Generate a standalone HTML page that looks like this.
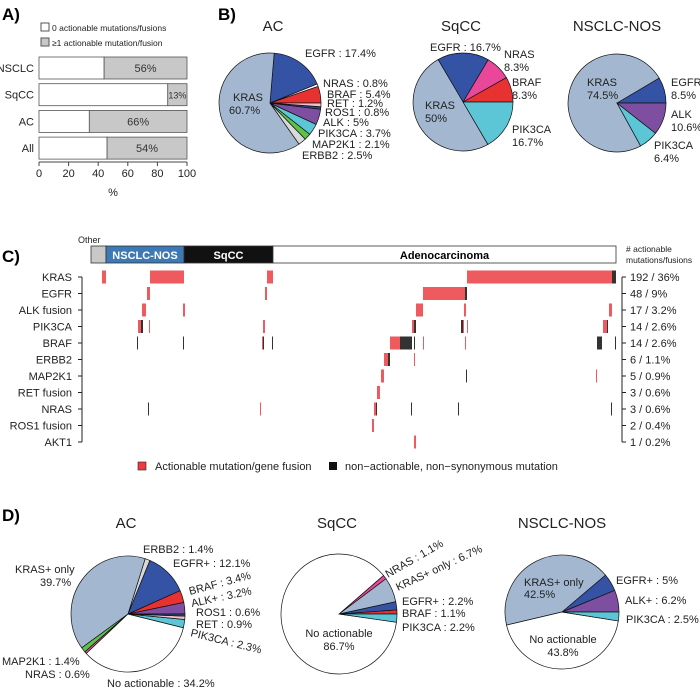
<!DOCTYPE html>
<html><head><meta charset="utf-8"><style>
html,body{margin:0;padding:0;background:#fff;}
svg{display:block;font-family:"Liberation Sans",Arial,sans-serif;}
</style></head><body>
<svg id="fig" width="700" height="697" viewBox="0 0 700 697" xmlns="http://www.w3.org/2000/svg">
<g font-size="17" font-weight="bold" fill="#000">
<text x="2" y="20">A)</text>
<text x="218" y="20">B)</text>
<text x="2" y="262">C)</text>
<text x="2" y="521">D)</text>
</g>
<g id="pa"></g>
<g id="pb"></g>
<g id="pc"></g>
<g id="pd"></g>
</svg>
<script>
// ---- Panel A data ----
const aCategories = ["NSCLC","SqCC","AC","All"];
const aActionable = [56,13,66,54];
const aTicks = [0,20,40,60,80,100];

// ---- Panel B data ----
const bACLabels = ["BRAF","NRAS","EGFR","KRAS","ERBB2","MAP2K1","PIK3CA","ALK","ROS1","RET"];
const bACValues = [5.4,0.8,17.4,60.7,2.5,2.1,3.7,5,0.8,1.2];
const bSqLabels = ["BRAF","NRAS","EGFR","KRAS","PIK3CA"];
const bSqValues = [8.3,8.3,16.7,50,16.7];
const bNosLabels = ["EGFR","KRAS","PIK3CA","ALK"];
const bNosValues = [8.5,74.5,6.4,10.6];

// ---- Panel C data ----
const cGenes = ["KRAS","EGFR","ALK fusion","PIK3CA","BRAF","ERBB2","MAP2K1","RET fusion","NRAS","ROS1 fusion","AKT1"];
const cCounts = ["192 / 36%","48 / 9%","17 / 3.2%","14 / 2.6%","14 / 2.6%","6 / 1.1%","5 / 0.9%","3 / 0.6%","3 / 0.6%","2 / 0.4%","1 / 0.2%"];
const cGroups = ["Other","NSCLC-NOS","SqCC","Adenocarcinoma"];
const cGroupStart = [0,15,93,182];
const cGroupEnd = [15,93,182,525];
const cNSamples = 525;
const segRow =  [0,0,0,0,0, 1,1,1,1, 2,2,2,2,2, 3,3,3,3,3,3,3,3,3,3,3, 4,4,4,4,4,4,4,4,4,4,4,4, 5,5,5, 6,6,6, 7, 8,8,8,8,8,8,8, 9, 10];
const segFrom = [11,59,176,376,521, 56,174,332,374, 51,92,325,373,518, 47,50,58,172,321,323,370,372,376,512,516, 46,92,171,172,181,299,309,323,332,374,506,524, 293,297,323, 290,375,505, 286, 57,169,283,285,320,367,520, 281, 323];
const segTo =   [15,93,182,521,525, 59,176,374,376, 55,94,332,375,521, 50,52,59,174,323,325,372,373,377,516,517, 47,93,172,173,182,309,321,324,333,375,511,525, 297,299,324, 293,376,506, 289, 58,170,285,286,321,368,521, 283, 325];
const segKind = ["a","a","a","a","n", "a","a","a","n", "a","a","a","a","a", "a","n","a","a","a","n","n","a","a","a","n", "n","n","a","n","n","a","n","n","a","a","n","n", "a","n","a", "a","n","a", "a", "n","a","a","n","n","n","n", "a", "a"];

// ---- Panel D data ----
const dACLabels = ["ALK+","BRAF","EGFR+","ERBB2","KRAS+ only","MAP2K1","NRAS","No actionable","PIK3CA","RET","ROS1"];
const dACValues = [3.2,3.4,12.1,1.4,39.7,1.4,0.6,34.2,2.3,0.9,0.6];
const dSqLabels = ["BRAF","EGFR+","KRAS+ only","NRAS","No actionable","PIK3CA"];
const dSqValues = [1.1,2.2,6.7,1.1,86.7,2.2];
const dNosLabels = ["ALK+","EGFR+","KRAS+ only","No actionable","PIK3CA"];
const dNosValues = [6.2,5,42.5,43.8,2.5];

const COL = {"KRAS":"#a3b8d0","KRAS+ only":"#a3b8d0","EGFR":"#3553a5","EGFR+":"#3553a5","BRAF":"#e83232","RET":"#f5bfd0","ROS1":"#27487e","ALK":"#7e4fa0","ALK+":"#7e4fa0","PIK3CA":"#5cc6d6","MAP2K1":"#5cc24a","ERBB2":"#d9d9d9","No actionable":"#ffffff"};
const NS="http://www.w3.org/2000/svg";
function mk(tag,attrs,parent,txt){const e=document.createElementNS(NS,tag);for(const k in attrs)e.setAttribute(k,attrs[k]);if(txt!==undefined)e.textContent=txt;parent.appendChild(e);return e;}

// ---- Panel A ----
(function(){
 const g=document.getElementById('pa');
 const x=v=>39+v*1.48;
 const y0=57, step=26.7, bh=22;
 let r=mk('rect',{x:41,y:23,width:8,height:8,fill:'#fff',stroke:'#555'},g);
 
 
 r=mk('rect',{x:41,y:38,width:8,height:8,fill:'#c8c8c8',stroke:'#555'},g);
 
 
 mk('text',{x:52,y:31,'font-size':'8.5',fill:'#222'},g,'0 actionable mutations/fusions');
 mk('text',{x:52,y:46,'font-size':'8.5',fill:'#222'},g,'\u22651 actionable mutation/fusion');
 aCategories.forEach((c,i)=>{
  const yy=y0+i*step, w0=100-aActionable[i];
  let b=mk('rect',{x:x(0),y:yy,width:x(w0)-x(0),height:bh,fill:'#fff',stroke:'#555','stroke-width':0.8},g);
  
  
  b=mk('rect',{x:x(w0),y:yy,width:x(100)-x(w0),height:bh,fill:'#c8c8c8',stroke:'#555','stroke-width':0.8},g);
  
  
  mk('text',{x:(x(w0)+x(100))/2,y:yy+15,'font-size':aActionable[i]<20?'9':'11','text-anchor':'middle',fill:'#333'},g,aActionable[i]+'%');
  mk('text',{x:34,y:yy+15,'font-size':'11','text-anchor':'end',fill:'#222'},g,c);
 });
 mk('line',{x1:x(0),x2:x(100),y1:162,y2:162,stroke:'#444'},g);
 aTicks.forEach(t=>{
  mk('line',{x1:x(t),x2:x(t),y1:162,y2:166,stroke:'#444'},g);
  mk('text',{x:x(t),y:177,'font-size':'11','text-anchor':'middle',fill:'#222'},g,String(t));
 });
 mk('text',{x:x(50),y:196,'font-size':'11','text-anchor':'middle',fill:'#222'},g,'%');
})();

// ---- pie helper ----
function pie(g,cx,cy,rx,ry,labels,values,colorFn,name){
 const tot=values.reduce((a,b)=>a+b,0);
 let a=0;
 labels.forEach((l,i)=>{
  const a1=a+values[i]/tot*2*Math.PI;
  const x0=cx+rx*Math.cos(a),y0=cy-ry*Math.sin(a),x1=cx+rx*Math.cos(a1),y1=cy-ry*Math.sin(a1);
  const large=(a1-a)>Math.PI?1:0;
  const p=mk('path',{d:`M${cx},${cy} L${x0},${y0} A${rx},${ry} 0 ${large} 0 ${x1},${y1} Z`,fill:colorFn(l),stroke:'#111','stroke-width':0.7},g);
  
  
  a=a1;
 });
}
function txt(g,x,y,s,opt){opt=opt||{};const t=mk('text',{x:x,y:y,'font-size':opt.fs||11,'text-anchor':opt.anchor||'start',fill:'#222'},g,s);if(opt.rot)t.setAttribute('transform',`rotate(${opt.rot} ${x} ${y})`);return t;}

// ---- Panel B ----
(function(){
 const g=document.getElementById('pb');
 txt(g,273,31,'AC',{fs:15,anchor:'middle'});
 txt(g,461,31,'SqCC',{fs:15,anchor:'middle'});
 txt(g,617,31,'NSCLC-NOS',{fs:15,anchor:'middle'});
 pie(g,270,103,51,50,bACLabels,bACValues,l=>l==='NRAS'?'#ffffff':COL[l],'b-ac');
 pie(g,463,102,50,49,bSqLabels,bSqValues,l=>l==='NRAS'?'#e8479a':COL[l],'b-sqcc');
 pie(g,617,103,49,49,bNosLabels,bNosValues,l=>COL[l],'b-nos');
 txt(g,233,101,'KRAS');txt(g,229,114,'60.7%');
 txt(g,305,57,'EGFR : 17.4%');
 txt(g,323,87,'NRAS : 0.8%');txt(g,327,98,'BRAF : 5.4%');txt(g,327,107,'RET : 1.2%');
 txt(g,325,116,'ROS1 : 0.8%');txt(g,323,126,'ALK : 5%');txt(g,318,137,'PIK3CA : 3.7%');
 txt(g,312,148,'MAP2K1 : 2.1%');txt(g,302,159,'ERBB2 : 2.5%');
 txt(g,430,51,'EGFR : 16.7%');txt(g,504,58,'NRAS');txt(g,504,71,'8.3%');
 txt(g,512,86,'BRAF');txt(g,512,99,'8.3%');txt(g,425,109,'KRAS');txt(g,425,122,'50%');
 txt(g,512,133,'PIK3CA');txt(g,512,146,'16.7%');
 txt(g,587,86,'KRAS');txt(g,587,99,'74.5%');txt(g,671,86,'EGFR');txt(g,671,99,'8.5%');
 txt(g,671,118,'ALK');txt(g,671,131,'10.6%');txt(g,654,149,'PIK3CA');txt(g,654,162,'6.4%');
})();

// ---- Panel C ----
(function(){
 const g=document.getElementById('pc');
 const X=s=>91+s*(525/cNSamples);
 const Y=i=>277+i*16.5;
 const gcol=['#c8c8c8','#3d7ab5','#111111','#ffffff'];
 const tcol=['#000','#fff','#fff','#000'];
 cGroups.forEach((n,i)=>{
  const r=mk('rect',{x:X(cGroupStart[i]),y:246,width:X(cGroupEnd[i])-X(cGroupStart[i]),height:17,fill:gcol[i],stroke:'#333','stroke-width':0.8},g);
  
  
  if(i>0) mk('text',{x:(X(cGroupStart[i])+X(cGroupEnd[i]))/2,y:259,'font-size':11,'font-weight':'bold','text-anchor':'middle',fill:tcol[i]},g,n);
 });
 txt(g,78,243,'Other',{fs:9});
 txt(g,626,252,'# actionable',{fs:8.5});txt(g,626,263,'mutations/fusions',{fs:8.5});
 mk('line',{x1:82,x2:82,y1:Y(0),y2:Y(cGenes.length-1),stroke:'#222'},g);
 mk('line',{x1:622,x2:622,y1:Y(0),y2:Y(cGenes.length-1),stroke:'#222'},g);
 cGenes.forEach((n,i)=>{
  mk('line',{x1:78,x2:82,y1:Y(i),y2:Y(i),stroke:'#222'},g);
  mk('line',{x1:622,x2:626,y1:Y(i),y2:Y(i),stroke:'#222'},g);
  txt(g,72,Y(i)+4,n,{anchor:'end'});
  txt(g,630,Y(i)+4,cCounts[i]);
 });
 segRow.forEach((r,k)=>{
  const x0=X(segFrom[k]),x1=X(segTo[k]);
  const m=mk('rect',{x:x0,y:Y(r)-6.5,width:Math.max(1,x1-x0),height:13,fill:segKind[k]==='a'?'#ee5a5e':'#333'},g);
  
  
 });
 let l=mk('rect',{x:138,y:462,width:8,height:8,fill:'#ee3b3f',stroke:'#222','stroke-width':0.6},g);
 
 
 txt(g,155,470,'Actionable mutation/gene fusion');
 l=mk('rect',{x:329,y:462,width:8,height:8,fill:'#111'},g);
 
 
 txt(g,345,470,'non\u2212actionable, non\u2212synonymous mutation');
})();

// ---- Panel D ----
(function(){
 const g=document.getElementById('pd');
 txt(g,126,528,'AC',{fs:15,anchor:'middle'});
 txt(g,337,528,'SqCC',{fs:15,anchor:'middle'});
 txt(g,562,528,'NSCLC-NOS',{fs:15,anchor:'middle'});
 pie(g,128,614,57,58,dACLabels,dACValues,l=>l==='NRAS'?'#e8479a':COL[l],'d-ac');
 pie(g,339,614,58,60,dSqLabels,dSqValues,l=>l==='NRAS'?'#e8479a':COL[l],'d-sqcc');
 pie(g,562,612,57,57,dNosLabels,dNosValues,l=>COL[l],'d-nos');
 txt(g,143,553,'ERBB2 : 1.4%');txt(g,173,567,'EGFR+ : 12.1%');
 txt(g,15,573,'KRAS+ only');txt(g,40,586,'39.7%');
 txt(g,190,595,'BRAF : 3.4%',{rot:-15});txt(g,192,607,'ALK+ : 3.2%',{rot:-12});
 txt(g,196,616,'ROS1 : 0.6%');txt(g,196,628,'RET : 0.9%');
 txt(g,190,636,'PIK3CA : 2.3%',{rot:14});
 txt(g,2,665,'MAP2K1 : 1.4%');txt(g,25,678,'NRAS : 0.6%');
 txt(g,107,687,'No actionable : 34.2%');
 txt(g,388,578,'NRAS : 1.1%',{rot:-30});txt(g,398,591,'KRAS+ only : 6.7%',{rot:-25});
 txt(g,402,605,'EGFR+ : 2.2%');txt(g,402,617,'BRAF : 1.1%');txt(g,402,631,'PIK3CA : 2.2%');
 txt(g,339,637,'No actionable',{anchor:'middle'});txt(g,339,650,'86.7%',{anchor:'middle'});
 txt(g,524,586,'KRAS+ only');txt(g,524,598,'42.5%');
 txt(g,616,584,'EGFR+ : 5%');txt(g,625,604,'ALK+ : 6.2%');txt(g,626,623,'PIK3CA : 2.5%');
 txt(g,563,643,'No actionable',{anchor:'middle'});txt(g,563,656,'43.8%',{anchor:'middle'});
})();
</script>
</body></html>
